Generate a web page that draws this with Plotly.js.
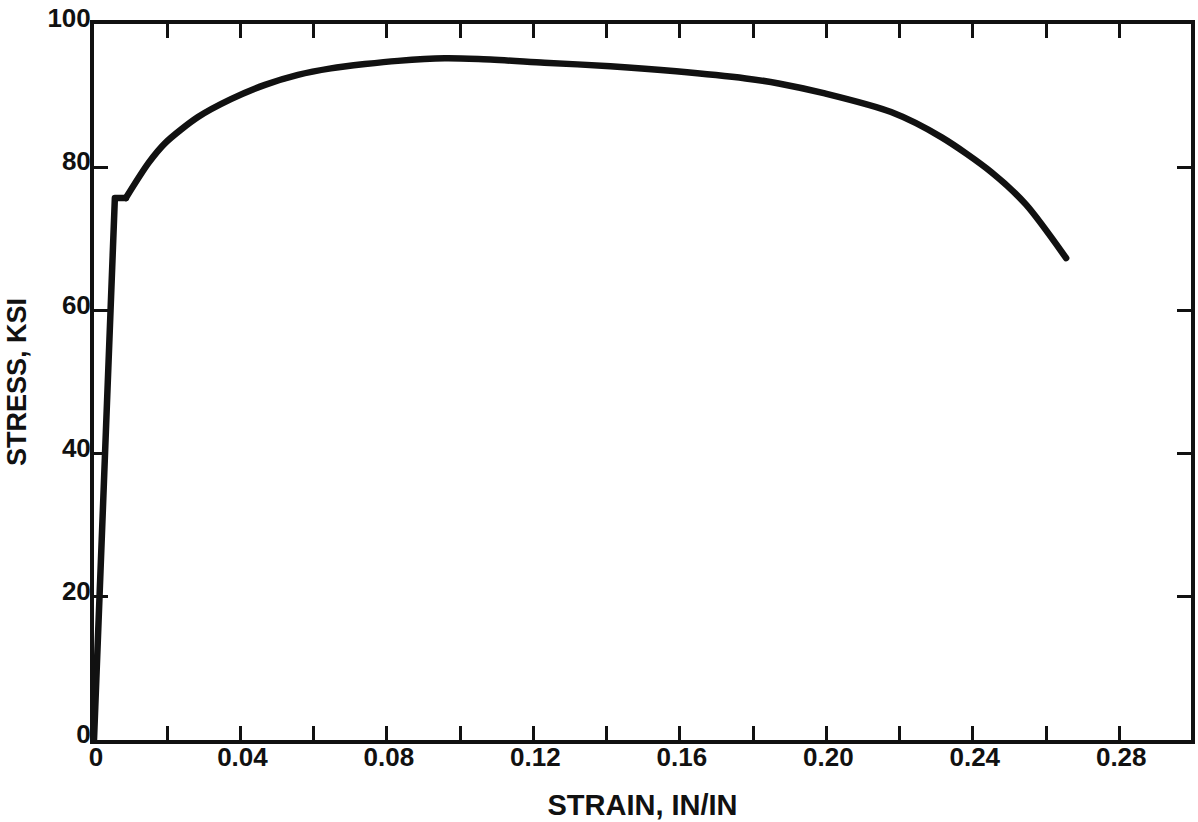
<!DOCTYPE html>
<html>
<head>
<meta charset="utf-8">
<script src="https://cdn.plot.ly/plotly-3.0.1.min.js"></script>
<style>
  html, body { margin: 0; padding: 0; background: #fff; }
  #chart { width: 1198px; height: 822px; }
  /* rounded pen ends so the curve segments join cleanly */
  #chart path.js-line { stroke-linecap: round !important; stroke-linejoin: round !important; }
</style>
</head>
<body>
<div id="chart"></div>
<script>
// Elastic loading and yield plateau (strain in in/in, stress in ksi)
const elasticStrain = [0, 0.0057, 0.0087];
const elasticStress = [0, 75.7, 75.7];

// Strain-hardening, ultimate and necking portion of the curve
const plasticStrain = [0.0087, 0.0149, 0.0195, 0.0284, 0.0374, 0.0467, 0.0557, 0.0647,
                       0.0740, 0.0830, 0.0958, 0.105, 0.123, 0.141, 0.159, 0.178,
                       0.187, 0.1996, 0.2177, 0.2314, 0.2451, 0.2545, 0.2655];
const plasticStress = [75.7, 80.6, 83.4, 87.0, 89.5, 91.5, 92.9, 93.8,
                       94.4, 94.85, 95.2, 95.1, 94.6, 94.1, 93.4, 92.4,
                       91.7, 90.3, 87.7, 84.2, 79.3, 74.8, 67.3];

// Axis ticks: marks every 0.02, labels every 0.04
const xTickVals = [0, 0.02, 0.04, 0.06, 0.08, 0.10, 0.12, 0.14, 0.16, 0.18, 0.20, 0.22, 0.24, 0.26, 0.28];
const xTickText = ['0', '', '0.04', '', '0.08', '', '0.12', '', '0.16', '', '0.20', '', '0.24', '', '0.28'];
const yTickVals = [0, 20, 40, 60, 80, 100];
const yTickText = ['0', '20', '40', '60', '80', '100'];

const ink = '#111111';
const lineStyle = { color: ink, width: 6.5 };

const traces = [
  { x: elasticStrain, y: elasticStress, mode: 'lines', line: Object.assign({ shape: 'linear' }, lineStyle), hoverinfo: 'x+y' },
  { x: plasticStrain, y: plasticStress, mode: 'lines', line: Object.assign({ shape: 'spline', smoothing: 0.8 }, lineStyle), hoverinfo: 'x+y' }
];

const tickFont = { family: 'Liberation Sans, Arial, sans-serif', size: 26, color: ink, weight: 'bold' };

const layout = {
  width: 1198,
  height: 822,
  margin: { l: 94, r: 7, t: 24, b: 82 },
  paper_bgcolor: '#ffffff',
  plot_bgcolor: '#ffffff',
  showlegend: false,
  xaxis: {
    range: [0, 0.2996],
    tickmode: 'array',
    tickvals: xTickVals,
    ticktext: xTickText,
    ticks: 'inside',
    ticklen: 14,
    tickwidth: 3,
    tickcolor: ink,
    ticklabelstandoff: -9,
    ticklabelshift: 2,
    showline: true,
    linewidth: 4,
    linecolor: ink,
    mirror: 'ticks',
    showgrid: false,
    zeroline: false,
    tickfont: tickFont,
    title: { text: 'STRAIN, IN/IN', font: { family: 'Liberation Sans, Arial, sans-serif', size: 29, color: ink, weight: 'bold' }, standoff: 24 }
  },
  yaxis: {
    range: [0, 100],
    tickmode: 'array',
    tickvals: yTickVals,
    ticktext: yTickText,
    ticks: 'inside',
    ticklen: 14,
    tickwidth: 3,
    tickcolor: ink,
    ticklabelstandoff: -6,
    ticklabelshift: -6,
    showline: true,
    linewidth: 4,
    linecolor: ink,
    mirror: 'ticks',
    showgrid: false,
    zeroline: false,
    tickfont: tickFont,
    title: { text: 'STRESS, KSI', font: { family: 'Liberation Sans, Arial, sans-serif', size: 27, color: ink, weight: 'bold' }, standoff: 14 }
  }
};

Plotly.newPlot('chart', traces, layout, { displayModeBar: false, staticPlot: true });
</script>
</body>
</html>
